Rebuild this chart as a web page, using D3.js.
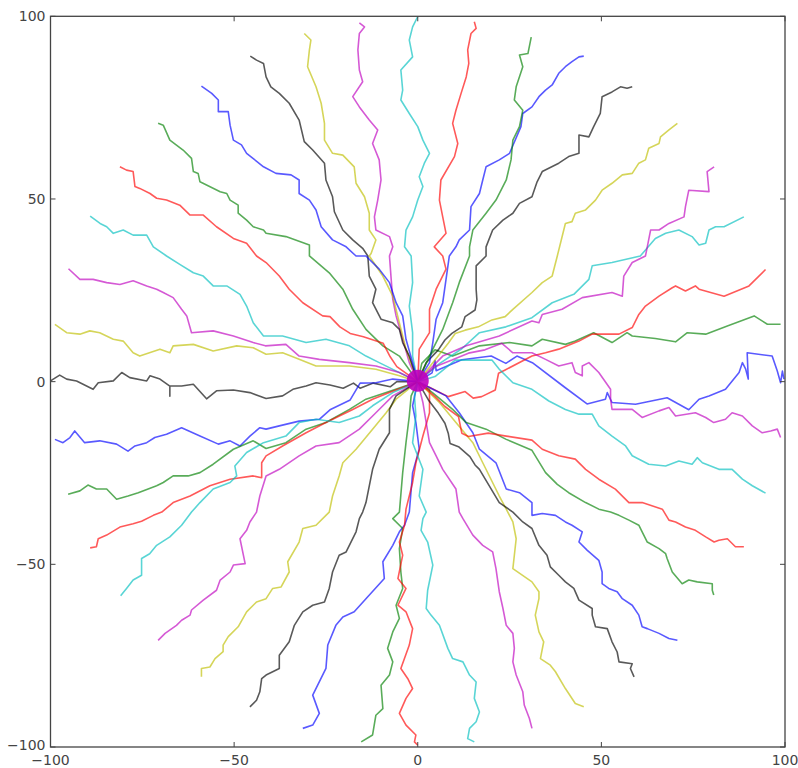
<!DOCTYPE html>
<html><head><meta charset="utf-8">
<script src="https://cdn.jsdelivr.net/npm/d3@7"></script>
<style>body{margin:0;background:#fff}svg{display:block}</style>
</head><body>
<svg id="c" width="798" height="768"></svg>
<script>
const xTicks = [-100, -50, 0, 50, 100];
const yTicks = [-100, -50, 0, 50, 100];
const lineColors = ["#0000ff", "#008000", "#ff0000", "#00bfbf", "#bf00bf", "#bfbf00", "#000000"];

const walk00 = [[0,0],[3.9,2.4],[4.7,5.8],[5,3],[12,6],[20,7],[24,5],[27,7],[31.2,5.2],[40.1,-1.6],[46.1,-6.1],[51.1,-4.8],[51.6,-3.0],[52.9,-5.7],[59.3,-6.2],[67.9,-4.4],[73.8,-7.7],[76.6,-4.8],[79.3,-3.9],[83.8,-2.1],[87.5,2.5],[88.4,5.2],[89.3,3.4],[90,0.7],[89.7,7.9],[96.5,7.0],[97.9,2.9],[98.8,-0.3],[99.3,2.9],[99.7,0.7]];
const walk01 = [[0,0],[1.1,5],[4.7,8.7],[9.5,7],[16.8,9.8],[25,10.7],[31.1,9.8],[33.9,11.6],[40.2,10.2],[42.9,11.1],[47.9,13.4],[52.9,10.7],[57,13.4],[58.4,12.5],[64.7,11.8],[70.2,10.9],[73.4,13.4],[78.4,13],[84.3,15.2],[91.6,18],[95.2,15.7],[98.8,15.7]];
const walk02 = [[0,0],[2.9,-1.4],[8.3,-4.1],[12.9,-2.7],[15.1,-4.5],[17.4,-4.1],[21.1,-2.3],[22,2.3],[23.8,3.2],[31.1,7],[34.8,7.9],[38.4,8.9],[43.9,11.1],[47.5,13],[54.8,13],[58.4,14.8],[60.2,18.4],[62,20.7],[65.7,23.4],[69.3,25.7],[70.2,26.2],[72.9,24.8],[75.6,26.2],[76.6,25.3],[83.4,23.4],[90.2,26.2],[94.7,30.7]];
const walk03 = [[0,0],[6,5],[12,9],[16.8,13.4],[24,15],[31.1,17.5],[36.6,21.6],[42.5,23.9],[46.6,28],[47.5,31.7],[52.9,32.6],[60.6,34.4],[64.7,39.2],[67.5,40.6],[71.1,41.5],[74.7,39.7],[76.6,37.4],[78.4,37.9],[79.3,41.5],[81.1,42.4],[83.4,42.4],[88.8,45.1]];
const walk04 = [[0,0],[6.8,7],[13.2,9.8],[22.2,12.5],[31.1,16.6],[33,16.1],[33.9,18.4],[39.3,19.8],[44.8,23],[52.9,24.4],[55.7,23.4],[56.1,28.9],[58.4,32.6],[62,34.4],[62.5,36.9],[63.4,41.5],[65.7,41.5],[68.4,43.3],[72.5,45.1],[72.9,47.9],[73.8,52.4],[79.3,52],[78.8,57.5],[80.7,58.8]];
const walk05 = [[0,0],[8.3,10.5],[10.2,13.2],[12.9,14.1],[16.5,15],[20.2,16.9],[23.8,17.8],[25.9,19.8],[31.1,24.4],[33.9,27.1],[36.6,28.9],[38,34.4],[40.2,43.3],[42,43.8],[42.9,46.1],[45.7,47],[48.4,49.7],[50.2,52.4],[52.9,54.3],[55.7,56.6],[58.4,57],[60.2,59.8],[62,60.7],[62.9,63.9],[65.7,65.2],[66.1,67],[68.4,68.9],[70.7,70.7]];
const walk06 = [[0,0],[2.3,5.2],[5.6,8.7],[7.4,11.4],[9.3,13.2],[12,15],[12.9,17.8],[15.6,19.6],[16.1,22.4],[15.9,25.3],[15.9,31.7],[18.6,34.4],[18.6,36.9],[20.4,41.5],[23.2,44.2],[25.9,46.1],[27.7,48.8],[31.1,50.6],[32.5,54.7],[33.9,57.5],[38.4,59.8],[41.1,61.6],[43.9,62.5],[43.9,67.5],[46.6,67],[47.9,69.8],[49.7,73.4],[50.2,78],[52.9,79.3],[55.2,80.7],[57,80.3],[58.4,80.7]];
const walk07 = [[0,0],[3.2,5.2],[4.1,10.7],[5,17.1],[6.8,21.6],[7.7,28],[8.6,34.4],[10.4,36.9],[11.3,38.8],[14.1,41.5],[14.5,47.9],[16.8,51.5],[17.7,55.2],[18.6,58.8],[22.2,60.7],[25,62.5],[28.1,69.8],[28.6,73.4],[31.1,75.2],[33,78],[34.8,79.8],[36.6,81.2],[38.4,84.4],[40.2,86.2],[42,87.6],[43.9,88.9],[45.2,89.1]];
const walk08 = [[0,0],[4.1,8.9],[6.8,14.3],[9.5,21.6],[11.3,27.1],[14.1,34.4],[14.1,36.9],[15,41.5],[18.6,46.1],[21.3,49.7],[24.1,55.2],[25.4,60.7],[25.9,66.1],[27.7,69.8],[28.6,74.3],[26.3,77.1],[26.8,80.7],[28.6,86.2],[27.7,89.4],[30,89.8],[30.9,94.3]];
const walk09 = [[0,0],[0.4,8.9],[3.2,13.4],[3.2,19.8],[5,25.3],[7.7,30.8],[6.8,34.4],[4.5,36.9],[7.7,40.6],[6.8,45.1],[5.9,49.7],[6.3,55.2],[10,61.6],[10.9,65.2],[9.5,70.7],[10.4,74.3],[11.8,78.9],[13.2,83.4],[13.9,87.1],[13.6,90.8],[14.5,95.3],[15.9,96.7],[15.4,98.5]];
const walk10 = [[0,0],[-1.4,7],[-1.4,13.4],[-2.3,20.7],[-1.4,27.1],[-1.8,34.4],[-3.6,36.9],[-3.2,41.5],[-1.4,45.1],[0,49.7],[1.4,53.4],[0.4,56.1],[1.8,59.8],[3.2,62.5],[1.4,66.1],[0,69.8],[-2.3,73.4],[-4.6,77.1],[-4.1,79.8],[-4.6,85.3],[-1.4,88.9],[-2.3,93.5],[-1.4,97.1],[0,99.9]];
const walk11 = [[0,0],[-2.3,5.2],[-4.1,11.6],[-5.9,18],[-6.8,22.5],[-7.3,28.9],[-7.7,34.4],[-6.8,36.9],[-7.7,39.7],[-11.4,41.5],[-11.8,45.1],[-10.9,49.7],[-10,55.2],[-10.5,60.7],[-12.3,65.2],[-10.9,68.9],[-13.2,71.6],[-15.9,75.2],[-17.7,78],[-15,82.1],[-15.9,85.3],[-16.3,90.8],[-15.9,95.3],[-14.5,97.1],[-15.9,98.2]];
const walk12 = [[0,0],[-3.2,8.9],[-5,16.1],[-6.8,23.4],[-9.5,28.9],[-13.2,34.4],[-12.7,35.1],[-11.4,38.8],[-13.2,41.5],[-13.2,46.1],[-14.5,50.6],[-16.8,54.3],[-17.3,58.8],[-20.4,62],[-23.2,62.5],[-25.4,66.1],[-25.4,70.7],[-26.3,76.2],[-27.7,80.7],[-30,86.2],[-29.5,90.8],[-29.1,93.5],[-30.9,95.3]];
const walk13 = [[0,0],[-2.3,7],[-4.1,10.7],[-5,14.3],[-6.8,16.1],[-10,17.1],[-12.3,21.6],[-11.4,25.3],[-13.2,28.9],[-13.6,34.4],[-15,36.5],[-17.7,38.8],[-20.4,41.5],[-22.7,46.5],[-23.2,50.6],[-25,55.2],[-25.4,59.8],[-28.6,63.4],[-30.9,65.7],[-32.3,71.6],[-35,76.2],[-37.7,78.9],[-40,80.7],[-41.3,83.4],[-42,87.1],[-43.9,88],[-45.6,89.1]];
const walk14 = [[0,0],[-1.4,5.2],[-3.2,11.6],[-4.1,18],[-5.9,21.6],[-7.7,27.1],[-10.5,30.8],[-14.1,34.4],[-16.8,34.4],[-19.5,36.9],[-23.2,38.8],[-26.3,42.4],[-27.7,47],[-29.5,49.7],[-32.3,51.5],[-32.3,55.2],[-34.5,56.6],[-38.6,57],[-42,58.8],[-46.6,62.5],[-48,64.8],[-50.2,66.1],[-51.1,70.2],[-51.6,73.9],[-54.3,73.9],[-54.3,77.1],[-56.1,78.9],[-58.9,80.9]];
const walk15 = [[0,0],[-5,7],[-9.5,9.8],[-14.1,14.3],[-17.7,19.8],[-20.4,25.3],[-24.1,29.8],[-29.5,34.4],[-29.5,37.4],[-35.9,39.7],[-41.3,40.6],[-42,41.5],[-44.8,42.4],[-46.6,44.2],[-48.9,46.1],[-48.9,48.3],[-51.1,49.7],[-52,51.5],[-53.8,52],[-59.3,54.7],[-59.8,57],[-61.1,57.5],[-61.6,61.1],[-63.9,63.4],[-67.5,66.1],[-69.3,70.2],[-70.7,70.7]];
const walk16 = [[0,0],[-5.7,4.1],[-7.5,6.8],[-9.4,10.5],[-12.1,11.4],[-14.8,12.3],[-18.4,13.2],[-21.2,15],[-23.9,17.8],[-25.9,18],[-31.3,21.6],[-35,25.3],[-37.7,28.9],[-41.3,32.6],[-43.9,34.4],[-46.6,37.9],[-50.2,39.2],[-54.8,42.4],[-58.4,45.6],[-62,45.6],[-64.8,48.3],[-68.4,49.7],[-71.1,50.2],[-72.9,51.5],[-75.7,52.9],[-77,53.4],[-77.5,57.5],[-79.3,57.9],[-81.1,58.8]];
const walk17 = [[0,0],[-10.5,5.2],[-14.1,7],[-18.6,9.8],[-25,11.6],[-30.4,10.7],[-36.8,12.5],[-42,12.5],[-44.8,16.1],[-46.6,20.7],[-48.4,23.9],[-52,26.2],[-55.7,26.2],[-58.4,28.9],[-61.1,29.8],[-64.8,32.1],[-68.4,34.4],[-72,36.9],[-73.8,40.1],[-77.5,40.1],[-80.2,41.5],[-82.9,40.6],[-84.7,42.4],[-86.5,43.3],[-89.2,45.3]];
const walk18 = [[0,0],[-5,2.5],[-11.4,4.3],[-18.6,5.2],[-26.8,6.1],[-32.3,7],[-35.9,10.2],[-41.5,9.8],[-44.8,10.7],[-50.2,12.5],[-55.7,13.9],[-61.6,13.4],[-62.9,18],[-64.3,19.8],[-66.6,23],[-69.3,24.4],[-71.1,25.3],[-73.8,26.2],[-77.5,27.6],[-81.1,26.6],[-84.7,27.1],[-88.4,28],[-92,28],[-95.1,30.9]];
const walk19 = [[0,0],[-5,1.6],[-11.4,3.4],[-18.6,4.3],[-27.7,4.3],[-32.3,6.1],[-36.8,7.9],[-41.3,7.5],[-44.8,9.3],[-49.3,9.8],[-55.7,8.4],[-61.1,10.2],[-66.6,9.8],[-67.5,7.9],[-70.2,8.9],[-75.7,7],[-77.5,7.9],[-80.2,11.1],[-82.9,11.6],[-86.6,13.4],[-89.3,13.9],[-92,13],[-95.6,13.4],[-98.8,15.7]];
const walk20 = [[0,0],[-5.7,0],[-7.5,-1.4],[-12.1,-0.4],[-15.7,-1.8],[-17.5,-0.4],[-20.3,-1.8],[-23.9,-0.9],[-27.7,-0.3],[-30.4,-1.2],[-34,-2.1],[-36.8,-3.9],[-41.3,-4.6],[-45.7,-3],[-50.2,-2.3],[-54.8,-2.5],[-57.5,-4.7],[-61.1,-0.7],[-64.3,-1.2],[-67.5,-1.2],[-67.5,-4],[-67.5,-1.2],[-70.2,0.7],[-72.9,1.6],[-73.8,0.2],[-78.4,1.1],[-80.6,2.5],[-82.9,0.2],[-87,-0.3],[-88.4,-2.1],[-92.9,0.2],[-95.6,0.7],[-97.5,1.8],[-100,0.2]];
const walk21 = [[0,0],[-6.8,0.7],[-11.4,-0.3],[-15.7,-0.4],[-18.4,-5],[-23.9,-7.7],[-26.8,-10.3],[-32.3,-10.8],[-37.7,-12.1],[-41.3,-13],[-43,-12.6],[-45.7,-14.9],[-48.4,-17.6],[-51.1,-16.2],[-54.3,-17.1],[-59.3,-14.9],[-64.3,-12.6],[-68.4,-14.4],[-71.6,-15.3],[-73.8,-16.7],[-77,-17.6],[-78.9,-19],[-82,-17.1],[-86.6,-16.2],[-90.7,-16.7],[-93.4,-13.5],[-94.7,-15.3],[-96.6,-16.7],[-98.8,-15.8]];
const walk22 = [[0,0],[-8.6,-3],[-14.1,-4.8],[-18.6,-7.6],[-25,-11.2],[-30.4,-13],[-35.9,-16.7],[-41.3,-18.3],[-44.8,-16.2],[-50.2,-18.5],[-55.7,-22.6],[-59.3,-24.9],[-62.5,-25.8],[-66.6,-25.8],[-69.3,-27.6],[-71.1,-28.5],[-76.1,-30.4],[-78.9,-31.3],[-82,-32.2],[-84.7,-29.4],[-87.5,-29.4],[-89.8,-28.3],[-92,-29.9],[-95.2,-30.8]];
const walk23 = [[0,0],[-7.7,-3],[-12.3,-4.8],[-17.7,-7.6],[-25,-11.2],[-30.4,-14],[-36.8,-17.6],[-41.3,-20.3],[-42.5,-22.2],[-42.5,-26.3],[-44.8,-25.8],[-51.1,-26.7],[-56.6,-28.5],[-62,-31.3],[-66.6,-33.1],[-69.7,-35.7],[-72,-36.6],[-75.2,-38.2],[-77.5,-38.9],[-81.1,-39.8],[-84.7,-42],[-87,-43],[-87.5,-45.2],[-89.2,-45.5]];
const walk24 = [[0,0],[-6.8,-3],[-12.3,-6.6],[-15.9,-9.4],[-21.4,-11.2],[-27.7,-10.3],[-32.3,-11.2],[-35.9,-14.9],[-42,-16.7],[-46.6,-19.4],[-49.8,-23.1],[-49.3,-25.8],[-51.1,-27.6],[-55.7,-29.4],[-59.3,-33.1],[-61.6,-35.7],[-64.3,-39.3],[-67.5,-42.5],[-71.1,-44.8],[-73,-47.1],[-75.2,-48.4],[-75.2,-53],[-77.5,-54.3],[-79.3,-56.6],[-80.9,-58.6]];
const walk25 = [[0,0],[-6.8,-3.9],[-11.4,-8.5],[-15.9,-13],[-21.4,-16.7],[-27.7,-17.6],[-32.3,-20.3],[-37.7,-24],[-41.3,-25.8],[-43,-31.3],[-43.9,-35.7],[-45.7,-38.4],[-46.6,-40.7],[-48.4,-43],[-47,-49.8],[-50.2,-50.2],[-51.1,-52.1],[-53.8,-54.3],[-54.8,-57.1],[-58.4,-59.8],[-61.6,-62.5],[-62,-63.9],[-64.3,-65.3],[-65.7,-66.7],[-68.8,-68.9],[-70.7,-70.8]];
const walk26 = [[0,0],[-5.9,-4.8],[-8.6,-8.5],[-12.3,-13],[-16.8,-18.5],[-20.4,-22.2],[-21.4,-25.8],[-23.2,-31.3],[-24.1,-35.7],[-25,-36.6],[-27.7,-39.3],[-31.3,-40.2],[-32.3,-43.9],[-35.4,-49.3],[-35,-52.1],[-37.2,-56.2],[-39.5,-56.6],[-41.3,-59.4],[-43.9,-60.3],[-46.6,-63],[-48.9,-67.1],[-51.6,-69.8],[-53,-72.1],[-53,-73.9],[-55.2,-75.8],[-56.6,-78.1],[-58.9,-78.5],[-58.9,-80.8]];
const walk27 = [[0,0],[-5.9,-3.9],[-7.7,-7.6],[-7.7,-14],[-10.5,-18.5],[-12.3,-24],[-14.1,-33.1],[-15,-35.7],[-15.9,-37.5],[-16.8,-41.1],[-19.5,-46.6],[-21.4,-47.5],[-23.2,-52.1],[-24.1,-56.6],[-25.4,-60.3],[-28.6,-61.2],[-31.3,-63],[-33.6,-66.7],[-35,-71.2],[-37.7,-74.9],[-37.7,-78.5],[-41.3,-80.3],[-42.5,-81.3],[-43,-84.9],[-43.9,-87.2],[-45.7,-89]];
const walk28 = [[0,0],[-1.4,-6.6],[-0.5,-11.2],[0.4,-18.5],[-1.4,-24.9],[-2.3,-35.7],[-3.6,-39.3],[-5,-41.1],[-6.8,-44.8],[-9.5,-49.3],[-9.1,-53.9],[-14.1,-59.4],[-17.3,-63],[-20.4,-64.4],[-22.3,-66.7],[-24.5,-72.1],[-25,-78.5],[-28.6,-85.8],[-26.8,-90.8],[-28.6,-94],[-31.3,-94.9]];
const walk29 = [[0,0],[-1.8,-3.9],[-2.3,-9.4],[-3.2,-16.7],[-4.1,-24.9],[-5,-35.7],[-6.8,-37.5],[-4.1,-40.2],[-5,-45.7],[-4.6,-52.1],[-4.1,-56.6],[-5.9,-61.2],[-5,-64.8],[-6.8,-68.5],[-8.2,-73],[-6.8,-76.7],[-7.7,-80.3],[-10,-83.1],[-9.5,-89.5],[-11.4,-91.3],[-12.3,-96.7],[-15.4,-98.6]];
const walk30 = [[0,0],[3.2,-2.1],[3.2,-8.5],[1.4,-14.9],[-0.5,-22.2],[-1.4,-27.6],[-3.2,-34.9],[-3.6,-39.3],[-5,-43.9],[-4.1,-47.5],[-5.4,-53.9],[-3.2,-56.6],[-5.4,-61.2],[-3.2,-63],[-1.4,-67.6],[-2.3,-72.1],[-4.6,-78.5],[-2.7,-81.3],[-1.4,-84],[-3.2,-86.7],[-5,-90.8],[-3.2,-94],[-0.5,-96.7],[-0.9,-98.6],[0,-99.5]];
const walk31 = [[0,0],[-0.9,-3.9],[-0.5,-9.4],[-1.4,-16.7],[1.4,-24],[0.4,-31.3],[2.3,-35.7],[1.4,-37.5],[0.9,-40.7],[2.7,-43.9],[4.1,-50.2],[2.7,-57.1],[2.3,-62.1],[3.6,-63.9],[5.9,-66.7],[8.2,-73],[9.5,-75.8],[12.3,-76.7],[14.1,-80.3],[15.9,-82.2],[15.4,-86.7],[16.8,-90.4],[15.9,-93.1],[14.1,-94.9],[13.6,-97.7],[15.4,-98.6]];
const walk32 = [[0,0],[1.4,-5.7],[2.3,-11.2],[3.2,-16.7],[5,-20.3],[6.8,-24],[10.4,-29.4],[11.3,-35.7],[12.3,-37.5],[15,-42],[17.7,-44.8],[20.4,-46.6],[21.3,-51.2],[22.2,-57.5],[23.2,-62.1],[24.1,-66.7],[25.9,-68.9],[26.3,-73],[25.9,-76.7],[26.8,-80.3],[28.6,-84.9],[29,-88.5],[30.4,-92.2],[31.1,-94.9]];
const walk33 = [[0,0],[5.9,-5.7],[10.4,-11.2],[15,-16.7],[17.7,-22.2],[22.2,-31.3],[24.1,-34.9],[25.9,-38.4],[26.8,-43],[25.9,-51.2],[31.1,-54.8],[33,-57.5],[33,-59.4],[32,-63.9],[33,-68.5],[34.3,-71.2],[33.4,-75.8],[36.1,-77.6],[37.5,-79.4],[40.2,-84],[42.9,-88.1],[45.2,-89]];
const walk34 = [[0,0],[2.9,-5],[5.6,-8.6],[7.4,-11.4],[8.3,-14.1],[8.8,-16.9],[11.1,-17.8],[14.2,-20.5],[15.6,-22.8],[16.8,-24],[22.2,-33.1],[25.9,-35.7],[28.6,-38.4],[31.1,-40.2],[33,-44.8],[35.2,-47.5],[36.1,-50.7],[38.4,-53],[40.2,-54.8],[42.5,-56.6],[43.9,-59.8],[47.5,-62.1],[47.5,-63.9],[48.4,-67.1],[51.6,-67.6],[52.9,-71.2],[54.3,-74],[54.8,-76.7],[58.4,-77.2],[57.9,-78.5],[58.9,-80.8]];
const walk35 = [[0,0],[4.1,-2.1],[7.7,-3.9],[11.3,-8.5],[15,-14],[16.8,-18.5],[21.3,-22.2],[24.1,-29.4],[27.7,-30.4],[31.1,-33.1],[31.1,-36.6],[33.9,-36.1],[37.5,-36.6],[40.2,-38.4],[42,-39.3],[44.8,-41.1],[43.9,-43.9],[46.1,-46.1],[49.3,-48.9],[50.2,-52.1],[50.2,-55.3],[52,-56.6],[54.3,-57.5],[55.7,-59.4],[58.4,-61.2],[60.2,-63.9],[61.1,-67.1],[62.5,-67.6],[65.7,-68.9],[68.4,-70.3],[70.7,-70.8]];
const walk36 = [[0,0],[4,-3],[9.5,-7.6],[13.2,-11.2],[18.6,-13],[24.1,-15.8],[31.1,-18.8],[34.8,-24.9],[38,-28.1],[41.1,-30.4],[45.7,-33.1],[49.3,-34.9],[52.5,-35.7],[54.8,-36.6],[57.5,-37.9],[60.2,-39.3],[61.1,-41.1],[62.5,-43.9],[65.7,-45.7],[67.5,-47.1],[67.9,-48.4],[69.3,-52.1],[72,-55.3],[73.8,-54.3],[76.1,-54.8],[80.2,-55.3],[80.2,-57.1],[80.6,-58.4]];
const walk37 = [[0,0],[4.7,-4.1],[7.4,-6.8],[11.1,-9.6],[12,-14.1],[13.8,-15],[19.2,-14.1],[24.1,-14.9],[31.1,-16],[33.9,-18.5],[38.4,-20.3],[42.9,-21.2],[45.7,-24],[49.3,-26.7],[53.8,-29.4],[57.5,-33.1],[61.1,-33.1],[66.6,-34.9],[68.4,-37.9],[70.2,-38.4],[72.9,-39.8],[75.6,-40.7],[78.4,-42.5],[80.7,-43.9],[82,-43.4],[84.3,-43],[86.5,-45.2],[88.8,-45.2]];
const walk38 = [[0,0],[4.7,1.4],[10.2,5.9],[15.6,5.9],[20.2,5.9],[22.2,3.4],[25.9,-0.3],[31.1,-2.1],[35.7,-5.3],[40.2,-7.6],[43.9,-8.9],[47.5,-8.9],[49.3,-12.1],[52.9,-14.9],[56.6,-17.6],[58.4,-20.3],[62.9,-22.6],[67.5,-23.1],[71.1,-21.7],[74.7,-22.6],[76.1,-20.8],[77.5,-22.2],[82,-24],[85.6,-24],[88.4,-26.7],[91.1,-28.5],[94.7,-30.5]];
const walk39 = [[0,0],[4.7,4.1],[9.3,5.9],[13.8,7.8],[18.3,8.7],[22.9,10.5],[25.9,7.9],[31.1,7.9],[34.8,6.1],[38.4,4.3],[42,5.2],[42.9,2.5],[44.8,1.6],[44.8,4.3],[46.6,5.2],[49.3,2.5],[52.5,-2.1],[52.5,-4.8],[52.9,-7.6],[58.4,-7.6],[61.1,-9.8],[65.7,-8],[68.4,-7.1],[70.2,-9.4],[75.6,-8.5],[78.4,-9.8],[80.6,-11.2],[83.8,-10.3],[85.6,-8.5],[88.4,-9.4],[91.1,-12.1],[93.8,-14],[96.1,-13.5],[97.9,-13],[98.8,-15.3]];

const walks = [walk00,walk01,walk02,walk03,walk04,walk05,walk06,walk07,walk08,walk09,
  walk10,walk11,walk12,walk13,walk14,walk15,walk16,walk17,walk18,walk19,
  walk20,walk21,walk22,walk23,walk24,walk25,walk26,walk27,walk28,walk29,
  walk30,walk31,walk32,walk33,walk34,walk35,walk36,walk37,walk38,walk39];
const origin = [[0, 0]];

(function () {
const svg = d3.select("#c");
const pL = 50.5, pR = 785, pT = 16.3, pB = 747;
const x = d3.scaleLinear().domain([-100, 100]).range([pL, pR]);
const y = d3.scaleLinear().domain([-100, 100]).range([pB, pT]);

svg.append("clipPath").attr("id", "clip").append("rect")
  .attr("x", pL).attr("y", pT).attr("width", pR - pL).attr("height", pB - pT);

const line = d3.line().x(d => x(d[0])).y(d => y(d[1]));
const g = svg.append("g").attr("clip-path", "url(#clip)");
g.selectAll("path.walk").data(walks).enter().append("path")
  .attr("class", "walk")
  .attr("d", line)
  .attr("fill", "none")
  .attr("stroke", (d, i) => lineColors[i % lineColors.length])
  .attr("stroke-opacity", 0.65)
  .attr("stroke-width", 1.6)
  .attr("stroke-linejoin", "round");

g.selectAll("circle.origin").data(origin).enter().append("circle")
  .attr("cx", d => x(d[0])).attr("cy", d => y(d[1]) - 1).attr("r", 11)
  .attr("fill", "#bf00bf").attr("fill-opacity", 0.9);

const fmt = v => v < 0 ? "\u2212" + Math.abs(v) : String(v);
const axisColor = "#444";
const tl = 5;
const ax = svg.append("g");
ax.append("rect").attr("x", pL).attr("y", pT).attr("width", pR - pL).attr("height", pB - pT)
  .attr("fill", "none").attr("stroke", axisColor).attr("stroke-width", 1.3);
xTicks.forEach(t => {
  ax.append("line").attr("x1", x(t)).attr("x2", x(t)).attr("y1", pB).attr("y2", pB - tl).attr("stroke", axisColor);
  ax.append("line").attr("x1", x(t)).attr("x2", x(t)).attr("y1", pT).attr("y2", pT + tl).attr("stroke", axisColor);
  ax.append("text").attr("x", x(t)).attr("y", pB + 17.5).attr("text-anchor", "middle")
    .attr("font-family", "DejaVu Sans, sans-serif").attr("font-size", 14).attr("fill", axisColor).text(fmt(t));
});
yTicks.forEach(t => {
  ax.append("line").attr("x1", pL).attr("x2", pL + tl).attr("y1", y(t)).attr("y2", y(t)).attr("stroke", axisColor);
  ax.append("line").attr("x1", pR).attr("x2", pR - tl).attr("y1", y(t)).attr("y2", y(t)).attr("stroke", axisColor);
  ax.append("text").attr("x", pL - 5).attr("y", y(t) - (t === -100 ? 1.5 : 0)).attr("dy", "0.35em").attr("text-anchor", "end")
    .attr("font-family", "DejaVu Sans, sans-serif").attr("font-size", 14).attr("fill", axisColor).text(fmt(t));
});
})();
</script>
</body></html>
